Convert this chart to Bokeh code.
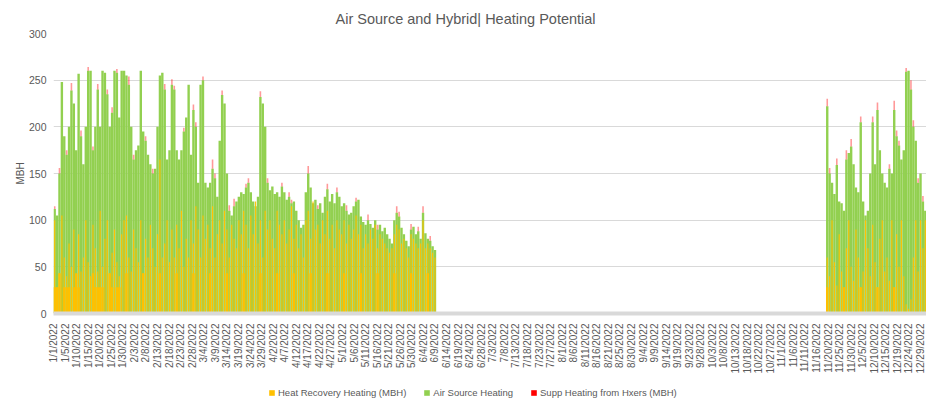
import math
from datetime import date
from bokeh.plotting import figure
from bokeh.layouts import column
from bokeh.models import Range1d, FixedTicker, Legend, LegendItem
from bokeh.embed import file_html
from bokeh.resources import INLINE

TITLE = "Air Source and Hybrid| Heating Potential"
Y_LABEL = "MBH"
series_names = ["Heat Recovery Heating (MBH)", "Air Source Heating", "Supp Heating from Hxers (MBH)"]
series_colors = ["#FFC000", "#92D050", "#FF0000"]

year_start = date(2022, 1, 1)
hours_in_year = 8760
tick_step_hours = 116
y_ticks = [0, 50, 100, 150, 200, 250, 300]

tick_labels = [
    "1/1/2022", "1/5/2022", "1/10/2022", "1/15/2022", "1/20/2022", "1/25/2022", "1/30/2022",
    "2/3/2022", "2/8/2022", "2/13/2022", "2/18/2022", "2/23/2022", "2/28/2022",
    "3/4/2022", "3/9/2022", "3/14/2022", "3/19/2022", "3/24/2022", "3/29/2022",
    "4/2/2022", "4/7/2022", "4/12/2022", "4/17/2022", "4/22/2022", "4/27/2022",
    "5/1/2022", "5/6/2022", "5/11/2022", "5/16/2022", "5/21/2022", "5/26/2022", "5/30/2022",
    "6/4/2022", "6/9/2022", "6/14/2022", "6/19/2022", "6/24/2022", "6/28/2022",
    "7/3/2022", "7/8/2022", "7/13/2022", "7/18/2022", "7/23/2022", "7/27/2022",
    "8/1/2022", "8/6/2022", "8/11/2022", "8/16/2022", "8/21/2022", "8/25/2022", "8/30/2022",
    "9/4/2022", "9/9/2022", "9/14/2022", "9/19/2022", "9/23/2022", "9/28/2022",
    "10/3/2022", "10/8/2022", "10/13/2022", "10/18/2022", "10/22/2022", "10/27/2022",
    "11/1/2022", "11/6/2022", "11/11/2022", "11/16/2022", "11/20/2022", "11/25/2022", "11/30/2022",
    "12/5/2022", "12/10/2022", "12/15/2022", "12/19/2022", "12/24/2022", "12/29/2022",
]

# ---- Heating season 1: 1/1/2022 .. 6/9/2022 (daily readings) ----
p1_start = date(2022, 1, 1)
# daily peak of stacked Heat Recovery + Air Source (MBH)
p1_stack_top = [
    112, 105, 150, 248, 190, 170, 200, 239, 225, 175,
    257, 190, 160, 200, 260, 260, 175, 200, 240, 200,
    260, 258, 235, 200, 215, 260, 258, 210, 260, 260,
    255, 245, 200, 165, 175, 180, 260, 195, 185, 170,
    160, 150, 155, 200, 255, 258, 240, 165, 175, 245,
    240, 175, 165, 175, 195, 210, 245, 170, 218, 200,
    140, 245, 250, 140, 135, 140, 155, 145, 125, 185,
    234, 225, 150, 110, 105, 115, 120, 125, 130, 128,
    135, 140, 130, 120, 115, 125, 232, 225, 200, 140,
    132, 136, 128, 130, 125, 136, 130, 122, 125, 118,
    120, 110, 100, 92, 95, 130, 150, 135, 118, 122,
    112, 118, 108, 125, 133, 120, 128, 118, 130, 125,
    115, 118, 110, 106, 108, 115, 120, 122, 104, 98,
    95, 100, 96, 92, 100, 90, 95, 88, 92, 85,
    80, 75, 100, 108, 104, 92, 85, 78, 72, 90,
    93, 85, 88, 80, 108, 86, 80, 78, 72, 68,
]
# daily peak of Heat Recovery Heating (MBH)
p1_heat_recovery = [
    100, 28, 43, 105, 60, 40, 75, 50, 90, 35,
    85, 45, 60, 100, 55, 40, 95, 70, 45, 110,
    50, 80, 100, 43, 65, 90, 55, 40, 85, 100,
    105, 60, 45, 90, 70, 55, 100, 43, 80, 60,
    95, 70, 50, 85, 165, 60, 75, 100, 55, 90,
    60, 95, 70, 110, 50, 80, 60, 100, 75, 115,
    90, 60, 105, 80, 95, 70, 115, 60, 85, 100,
    75, 110, 90, 60, 95, 80, 70, 100, 85, 110,
    95, 70, 105, 85, 120, 75, 100, 60, 110, 90,
    100, 80, 70, 110, 95, 85, 100, 75, 90, 115,
    80, 95, 70, 85, 60, 100, 110, 80, 120, 90,
    95, 75, 100, 85, 110, 80, 95, 70, 100, 90,
    85, 100, 75, 95, 80, 90, 105, 85, 95, 70,
    85, 75, 90, 80, 95, 70, 85, 80, 75, 70,
    65, 70, 85, 95, 90, 75, 80, 70, 60, 85,
    80, 75, 70, 75, 100, 70, 75, 70, 65, 60,
]
# days (offset from season start) where Heat Recovery holds a steady all-day level
p1_steady_days_43 = [2, 9, 16, 23, 30, 37, 44, 51, 58, 65, 72, 79, 86, 93, 100,
                     107, 114, 121, 128, 135, 142, 149, 156]
p1_steady_days_28 = [0, 1, 4, 5, 6, 8, 10, 17, 18, 19, 20, 24, 26, 27]
# Supp Heating from Hxers (MBH): day offset and value
p1_supp_days = [0, 2, 5, 7, 11, 14, 16, 18, 22, 24, 26, 31, 33, 38, 41, 46, 49, 50,
                54, 58, 59, 62, 66, 67, 70, 73, 75, 80, 81, 86, 89, 95, 98, 99, 106,
                110, 114, 118, 122, 126, 131, 135, 143, 144, 149, 152, 154, 157]
p1_supp_values = [3, 6, 5, 8, 6, 4, 4, 6, 5, 6, 4, 9, 5, 5, 5, 6, 6, 4,
                  4, 6, 5, 4, 10, 5, 5, 6, 8, 4, 5, 6, 5, 4, 5, 4, 8,
                  4, 6, 5, 6, 4, 6, 5, 7, 5, 6, 5, 7, 5]

# ---- Heating season 2: 11/20/2022 .. 12/31/2022 ----
p2_start = date(2022, 11, 20)
p2_stack_top = [
    222, 150, 140, 128, 159, 120, 118, 110, 165, 172,
    179, 160, 135, 130, 205, 120, 105, 110, 150, 205,
    160, 218, 175, 150, 140, 135, 155, 150, 218, 190,
    180, 165, 175, 259, 260, 240, 200, 185, 140, 150,
    120, 110,
]
p2_heat_recovery = [
    60, 40, 100, 55, 30, 85, 45, 28, 70, 100,
    50, 35, 90, 60, 28, 45, 100, 70, 40, 95,
    55, 28, 80, 100, 45, 60, 35, 100, 28, 85,
    50, 100, 40, 10, 5, 15, 60, 100, 45, 100,
    70, 100,
]
p2_steady_days_28 = [0, 7, 14, 21, 28]
p2_supp_days = [0, 1, 4, 8, 10, 14, 19, 21, 26, 28, 29, 30, 33, 35, 36, 38, 40]
p2_supp_values = [8, 6, 7, 10, 8, 6, 6, 8, 5, 10, 6, 5, 4, 10, 7, 5, 6]

FONT = "Liberation Sans"
TXT = "#595959"
GRID = "#D9D9D9"


def hour_of(start, offset):
    return ((start - year_start).days + offset) * 24 + 12


green_x, green_top = [], []
hr_x, hr_top = [], []
st_x, st_top = [], []
sp_x, sp_bot, sp_top = [], [], []
for start, tops, hrs, st43, st28, sdays, svals in [
    (p1_start, p1_stack_top, p1_heat_recovery, p1_steady_days_43, p1_steady_days_28, p1_supp_days, p1_supp_values),
    (p2_start, p2_stack_top, p2_heat_recovery, [], p2_steady_days_28, p2_supp_days, p2_supp_values),
]:
    for i, (t, h) in enumerate(zip(tops, hrs)):
        green_x.append(hour_of(start, i)); green_top.append(t)
        hr_x.append(hour_of(start, i)); hr_top.append(h)
    for d in st43:
        st_x.append(hour_of(start, d)); st_top.append(43)
    for d in st28:
        st_x.append(hour_of(start, d)); st_top.append(28)
    for d, v in zip(sdays, svals):
        sp_x.append(hour_of(start, d)); sp_bot.append(tops[d]); sp_top.append(tops[d] + v)

p = figure(width=926, height=376, output_backend="svg", toolbar_location=None,
           x_range=Range1d(0, hours_in_year), y_range=Range1d(0, 300),
           min_border_left=53, min_border_right=0, min_border_top=33, min_border_bottom=0)
p.background_fill_color = "white"
p.border_fill_color = "white"
p.outline_line_color = None

p.vbar(x=green_x, top=green_top, bottom=0, width=24, fill_color=series_colors[1], line_color=None)
p.vbar(x=st_x, top=st_top, bottom=0, width=24, fill_color=series_colors[0], line_color=None)
p.vbar(x=hr_x, top=hr_top, bottom=0, width=11, fill_color=series_colors[0], line_color=None)
p.vbar(x=sp_x, top=sp_top, bottom=sp_bot, width=16, fill_color=series_colors[2], fill_alpha=0.4, line_color=None)

# title
p.title.text = TITLE
p.title.align = "left"
p.title.offset = 282
p.title.text_font = FONT
p.title.text_font_size = "14.5px"
p.title.text_font_style = "normal"
p.title.text_color = TXT
p.title.standoff = 14

# axes
xa = p.xaxis[0]
ticks = [k * tick_step_hours for k in range(len(tick_labels))]
xa.ticker = FixedTicker(ticks=ticks)
xa.major_label_overrides = {t: lab for t, lab in zip(ticks, tick_labels)}
xa.major_label_orientation = math.pi / 2
xa.major_label_text_font = FONT
xa.major_label_text_font_size = "10px"
xa.major_label_text_color = TXT
xa.major_label_standoff = 4
xa.axis_line_color = GRID
xa.axis_line_width = 4
xa.major_tick_line_color = None
xa.minor_tick_line_color = None

ya = p.yaxis[0]
ya.ticker = FixedTicker(ticks=y_ticks)
ya.major_label_text_font = FONT
ya.major_label_text_font_size = "10.5px"
ya.major_label_text_color = TXT
ya.major_label_standoff = 1
ya.axis_line_color = None
ya.major_tick_line_color = None
ya.minor_tick_line_color = None
ya.axis_label = Y_LABEL
ya.axis_label_text_font = FONT
ya.axis_label_text_font_size = "10px"
ya.axis_label_text_font_style = "normal"
ya.axis_label_text_color = TXT
ya.axis_label_standoff = 0

p.xgrid.grid_line_color = None
p.ygrid.grid_line_color = GRID
p.ygrid.grid_line_width = 1

# legend in its own strip under the chart
lg = figure(width=926, height=28, output_backend="svg", toolbar_location=None,
            x_range=Range1d(0, 1), y_range=Range1d(0, 1),
            x_axis_location=None, y_axis_location=None,
            min_border_left=0, min_border_right=0, min_border_top=0, min_border_bottom=0)
lg.outline_line_color = None
lg.xgrid.visible = False
lg.ygrid.visible = False
proxies = [lg.quad(left=[-2], right=[-1], top=[-1], bottom=[-2], fill_color=c, line_color=None)
           for c in series_colors]
legend = Legend(items=[LegendItem(label=n, renderers=[r]) for n, r in zip(series_names, proxies)],
                orientation="horizontal", location=(215, 6),
                glyph_width=7, glyph_height=7, label_standoff=3, spacing=17,
                padding=0, margin=0, border_line_color=None, background_fill_alpha=0,
                label_text_font=FONT, label_text_font_size="9.5px", label_text_color=TXT)
lg.add_layout(legend)

page = column(p, lg, spacing=0)
open("out.html", "w").write(file_html(page, INLINE))
